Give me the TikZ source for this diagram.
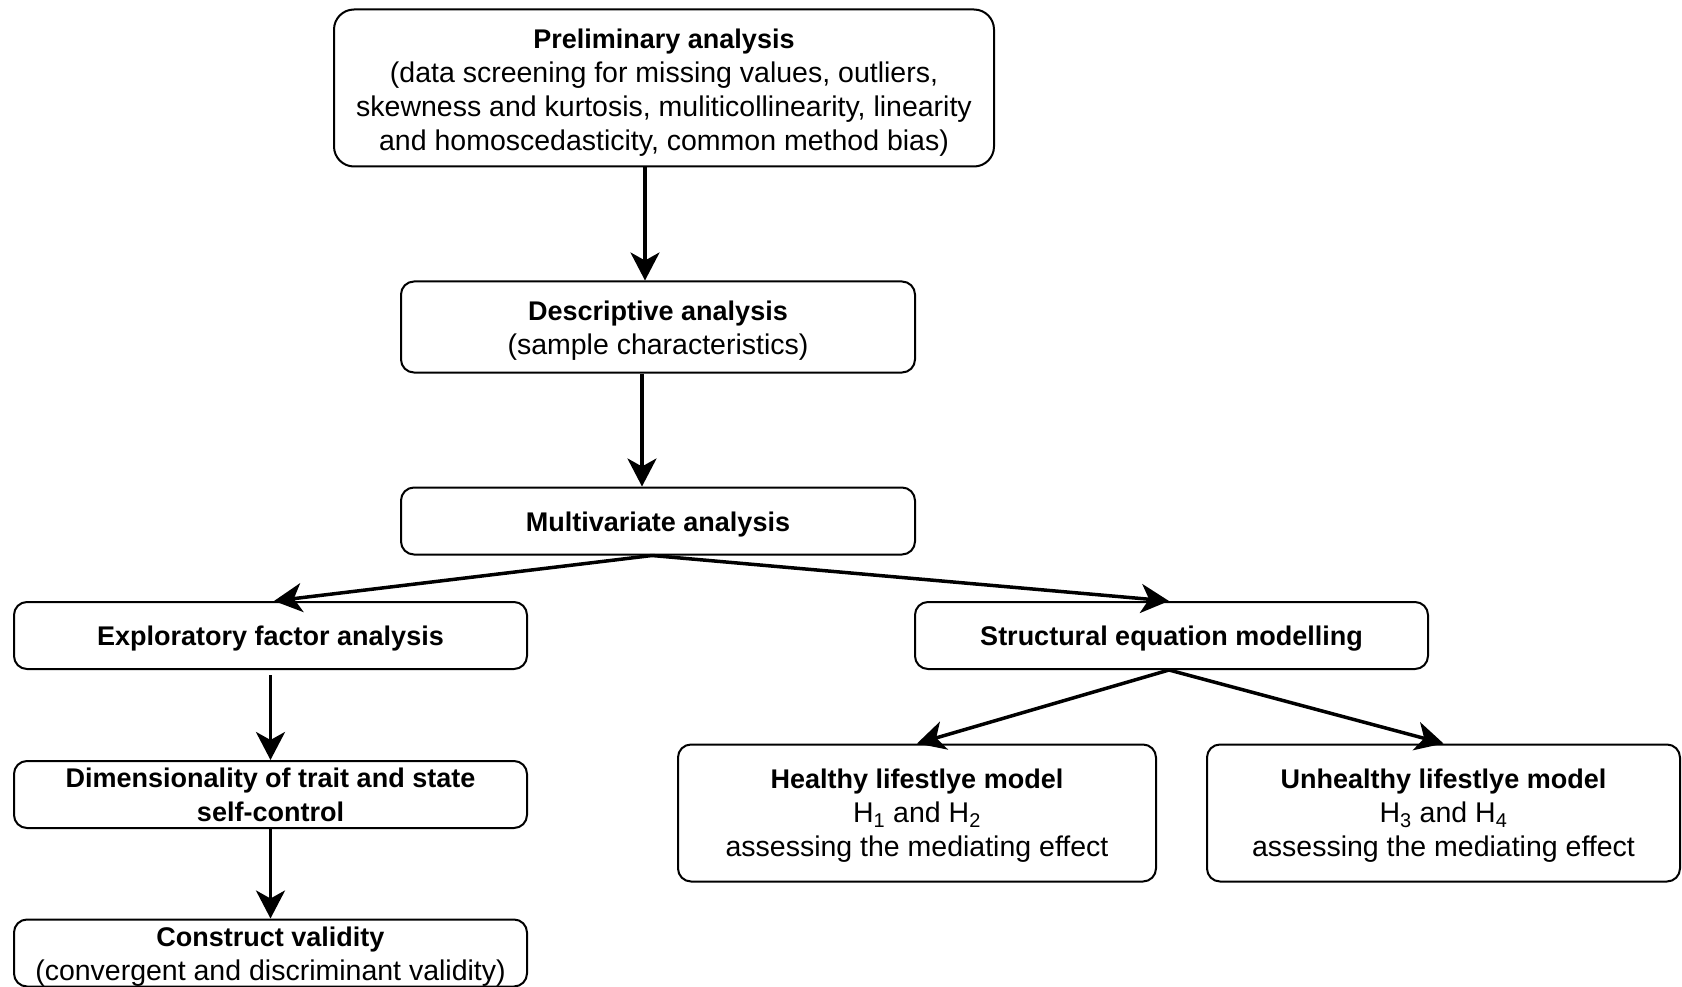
\documentclass[tikz,border=0pt]{standalone}
\usepackage{fontspec}
\setmainfont{Liberation Sans}
\usetikzlibrary{arrows.meta}
% bold heading line inside a box
\newcommand\boxhead[1]{{\fontsize{27}{34}\selectfont\bfseries #1}}
% invisible strut that sets the height of a box's first line
\newcommand\firstline[1]{\rule{0pt}{#1}}
\begin{document}
\begin{tikzpicture}[x=1pt,y=-1pt,
  box/.style={draw, line width=2pt, rounded corners=13pt, align=center,
    inner sep=0pt, font=\fontsize{28.5}{34}\selectfont},
  arr/.style={line width=3.5pt, -{Stealth[length=28pt,width=29pt,inset=8pt]}}]
\useasboundingbox (0,0) rectangle (1682,987);

% main column
\node[box, rounded corners=20pt, minimum width=660pt, minimum height=157pt] (pre) at (664,88)
  {\firstline{28pt}\boxhead{Preliminary analysis}\\(data screening for missing values, outliers,\\
   skewness and kurtosis, muliticollinearity, linearity\\
   and homoscedasticity, common method bias)};
\node[box, minimum width=514pt, minimum height=91pt] (desc) at (658,327)
  {\firstline{27pt}\boxhead{Descriptive analysis}\\(sample characteristics)};
\node[box, minimum width=514pt, minimum height=67pt] (multi) at (658,521)
  {\firstline{27pt}\boxhead{Multivariate analysis}};

% left branch
\node[box, minimum width=513pt, minimum height=67pt] (efa) at (270.5,635.5)
  {\firstline{26pt}\boxhead{Exploratory factor analysis}};
\node[box, minimum width=513pt, minimum height=67pt] (dim) at (270.5,794.5)
  {\boxhead{Dimensionality of trait and state}\\\boxhead{self-control}};
\node[box, minimum width=513pt, minimum height=67pt] (con) at (270.5,953)
  {\firstline{27pt}\boxhead{Construct validity}\\(convergent and discriminant validity)};

% right branch
\node[box, minimum width=513pt, minimum height=67pt] (sem) at (1171.5,635.5)
  {\firstline{26pt}\boxhead{Structural equation modelling}};
\node[box, minimum width=478pt, minimum height=137pt] (hl) at (917,813)
  {\firstline{24pt}\boxhead{Healthy lifestlye model}\\H\textsubscript{1} and H\textsubscript{2}\\assessing the mediating effect};
\node[box, minimum width=473pt, minimum height=137pt] (ul) at (1443.5,813)
  {\firstline{24pt}\boxhead{Unhealthy lifestlye model}\\H\textsubscript{3} and H\textsubscript{4}\\assessing the mediating effect};

% connectors
\draw[arr] ([xshift=-19pt]pre.south) -- ([xshift=-13pt]desc.north);
\draw[arr] ([xshift=-16pt]desc.south) -- ([xshift=-16pt]multi.north);
\draw[arr] ([xshift=-6pt]multi.south) -- ([xshift=3.5pt]efa.north);
\draw[arr] ([xshift=-6pt]multi.south) -- ([xshift=-2.5pt]sem.north);
\draw[arr] ([yshift=-5pt]efa.south) -- (dim.north);
\draw[arr] (dim.south) -- (con.north);
\draw[arr] ([xshift=-2.5pt]sem.south) -- (hl.north);
\draw[arr] ([xshift=-2.5pt]sem.south) -- (ul.north);
\end{tikzpicture}
\end{document}
